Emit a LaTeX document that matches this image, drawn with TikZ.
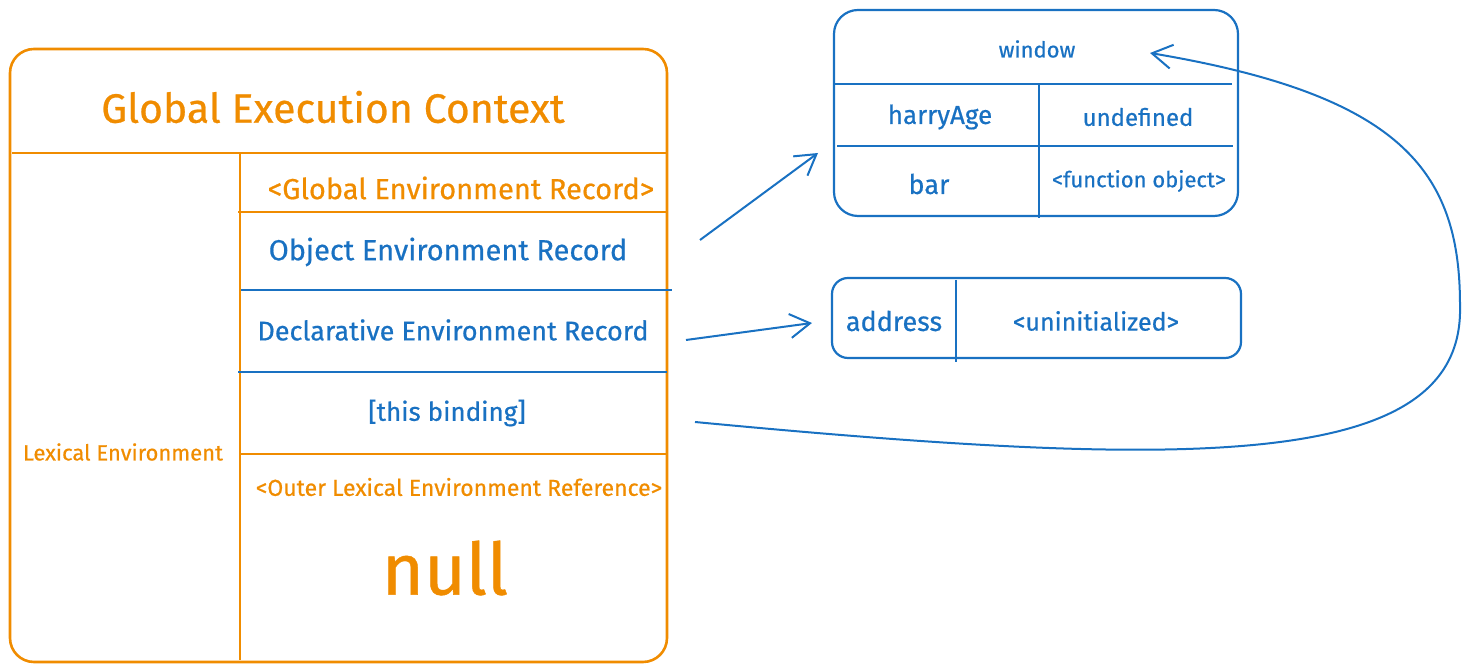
\documentclass[tikz,border=0pt]{standalone}
\usepackage{fontspec}
\setmainfont{Fira Sans}[FakeBold=0.6]
\usetikzlibrary{arrows.meta}
\definecolor{exorange}{HTML}{F08C00}
\definecolor{exblue}{HTML}{1971C2}
\tikzset{
  frame/.style={line width=1.3pt, rounded corners=12pt},
  rule/.style={line width=1.4pt},
  lbl/.style={inner sep=0pt, anchor=center},
  arr/.style={exblue, line width=1pt, -{Straight Barb[length=10pt,width=12pt]}},
}
\newcommand{\fs}[1]{\fontsize{#1}{#1}\selectfont}

\begin{document}
\begin{tikzpicture}[x=0.5pt, y=-0.5pt]
    \useasboundingbox (0,0) rectangle (1469,672);
    % global execution context
    \draw[frame, exorange] (10,49) rectangle (667,662);
    \draw[rule, exorange] (12,153) -- (667,153);
    \draw[rule, exorange, line width=1.1pt] (240,153) -- (240,660);
    \foreach \y/\col/\xa/\xb in {212/exorange/238/667, 290/exblue/241/672, 372/exblue/238/667, 454/exorange/241/667} {
        \draw[rule, \col] (\xa,\y) -- (\xb,\y);
    }
    \node[lbl, exorange, font=\fs{20.5}] (gec) at (333,107) {Global Execution Context};
    \node[lbl, exorange, font=\fs{11}] (lexenv) at (123,452) {Lexical Environment};
    \foreach \name/\x/\y/\col/\sz/\txt in {globrec/461/188/exorange/14.5/<Global Environment Record>, objrec/448/252/exblue/14.5/Object Environment Record, declrec/453/330/exblue/13.5/Declarative Environment Record, thisbind/447/413/exblue/13/[this binding], outerref/459/487/exorange/11.5/<Outer Lexical Environment Reference>} {
        \node[lbl, \col, font=\fs{\sz}] (\name) at (\x,\y) {\txt};
    }
    \node[lbl, exorange, font=\fs{36}] (nullval) at (445,568) {null};

    % window object
    \draw[frame, exblue, line width=1.1pt] (834,10) rectangle (1238,216);
    \draw[rule, exblue] (834,84) -- (1232,84);
    \draw[rule, exblue] (837,146) -- (1233,146);
    \draw[rule, exblue] (1039,84) -- (1039,218);
    \node[lbl, exblue, font=\fs{11}] (win) at (1037,49) {window};
    \node[lbl, exblue, font=\fs{13}] (harry) at (940,117) {harryAge};
    \node[lbl, exblue, font=\fs{12}] (undef) at (1138,117) {undefined};
    \node[lbl, exblue, font=\fs{13.5}] (bar) at (929,184) {bar};
    \node[lbl, exblue, font=\fs{11}] (funcobj) at (1139,181) {<function object>};

    % declarative record
    \draw[frame, exblue, line width=1.1pt, rounded corners=8pt] (832,278) rectangle (1241,358);
    \draw[rule, exblue] (956,280) -- (956,362);
    \node[lbl, exblue, font=\fs{13.5}] (addr) at (894,321) {address};
    \node[lbl, exblue, font=\fs{12.5}] (uninit) at (1096,321) {<uninitialized>};

    % connectors
    \coordinate (objout) at (700,240);
    \coordinate (winin) at (818,153);
    \coordinate (declout) at (686,340);
    \coordinate (addrin) at (812,323);
    \coordinate (thisout) at (695,422);
    \coordinate (winback) at (1150,53);
    \draw[arr] (objout) -- (winin);
    \draw[arr] (declout) -- (addrin);
    \draw[arr] (thisout) .. controls (1200,470) and (1465,470) .. (1460,305)
        .. controls (1460,170) and (1400,95) .. (winback);
\end{tikzpicture}
\end{document}
